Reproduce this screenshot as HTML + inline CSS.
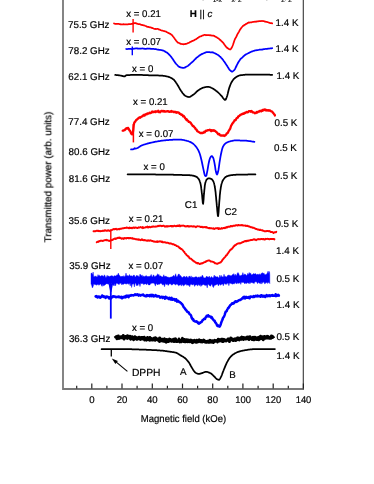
<!DOCTYPE html>
<html>
<head>
<meta charset="utf-8">
<title>ESR spectra</title>
<style>
html,body{margin:0;padding:0;background:#ffffff;}
body{width:374px;height:484px;overflow:hidden;font-family:"Liberation Sans",sans-serif;}
svg{display:block;}
svg text{font-family:"Liberation Sans",sans-serif;fill:#000;stroke:#000;stroke-width:0.2px;text-rendering:geometricPrecision;}
</style>
</head>
<body>
<svg width="374" height="484" viewBox="0 0 374 484">
<rect x="0" y="0" width="374" height="484" fill="#ffffff"/>
<g id="axes">
<path d="M63 0V389H304" fill="none" stroke="#787878" stroke-width="1.8" stroke-linejoin="miter"/>
<line x1="303.35" y1="0" x2="303.35" y2="389.6" stroke="#555" stroke-width="1.3"/>
<line x1="76.7" y1="388.4" x2="76.7" y2="385.79999999999995" stroke="#222" stroke-width="1.2"/>
<line x1="91.8" y1="388.4" x2="91.8" y2="383.59999999999997" stroke="#222" stroke-width="1.2"/>
<line x1="106.9" y1="388.4" x2="106.9" y2="385.79999999999995" stroke="#222" stroke-width="1.2"/>
<line x1="122.0" y1="388.4" x2="122.0" y2="383.59999999999997" stroke="#222" stroke-width="1.2"/>
<line x1="137.1" y1="388.4" x2="137.1" y2="385.79999999999995" stroke="#222" stroke-width="1.2"/>
<line x1="152.3" y1="388.4" x2="152.3" y2="383.59999999999997" stroke="#222" stroke-width="1.2"/>
<line x1="167.4" y1="388.4" x2="167.4" y2="385.79999999999995" stroke="#222" stroke-width="1.2"/>
<line x1="182.5" y1="388.4" x2="182.5" y2="383.59999999999997" stroke="#222" stroke-width="1.2"/>
<line x1="197.6" y1="388.4" x2="197.6" y2="385.79999999999995" stroke="#222" stroke-width="1.2"/>
<line x1="212.7" y1="388.4" x2="212.7" y2="383.59999999999997" stroke="#222" stroke-width="1.2"/>
<line x1="227.8" y1="388.4" x2="227.8" y2="385.79999999999995" stroke="#222" stroke-width="1.2"/>
<line x1="242.9" y1="388.4" x2="242.9" y2="383.59999999999997" stroke="#222" stroke-width="1.2"/>
<line x1="258.1" y1="388.4" x2="258.1" y2="385.79999999999995" stroke="#222" stroke-width="1.2"/>
<line x1="273.2" y1="388.4" x2="273.2" y2="383.59999999999997" stroke="#222" stroke-width="1.2"/>
<line x1="288.3" y1="388.4" x2="288.3" y2="385.79999999999995" stroke="#222" stroke-width="1.2"/>
<line x1="303.4" y1="388.4" x2="303.4" y2="383.59999999999997" stroke="#222" stroke-width="1.2"/>
</g>
<g id="curves">
<polyline points="114.0,23.5 114.5,23.6 115.0,23.8 115.5,23.9 116.0,24.0 116.5,23.9 117.0,23.9 117.5,23.9 118.0,23.9 118.5,23.8 119.0,24.0 119.5,24.1 120.0,24.3 120.5,24.2 121.0,24.4 121.5,24.4 122.0,24.5 122.5,24.4 123.0,24.3 123.5,24.2 124.0,24.3 124.5,24.4 125.0,24.3 125.5,24.3 126.0,24.4 126.5,24.4 127.0,24.4 127.5,24.4 128.0,24.3 128.5,24.2 129.0,24.2 129.5,24.2 130.0,24.0 130.5,24.0 131.0,24.0 131.5,23.8 132.0,24.0 132.5,23.9 133.0,23.4 133.5,23.4 134.0,23.2 134.5,23.1 135.0,23.3 135.5,23.1 136.0,23.2 136.5,23.6 137.0,23.7 137.5,23.8 138.0,24.0 138.5,24.1 139.0,24.2 139.5,24.2 140.0,24.2 140.5,24.5 141.0,24.8 141.5,24.8 142.0,24.9 142.5,25.2 143.0,25.2 143.5,25.3 144.0,25.4 144.5,25.5 145.0,25.8 145.5,26.0 146.0,26.1 146.5,26.4 147.0,26.7 147.5,26.8 148.0,26.8 148.5,26.9 149.0,27.1 149.5,27.3 150.0,27.3 150.5,27.3 151.0,27.5 151.5,27.8 152.0,27.9 152.5,28.1 153.0,28.3 153.5,28.5 154.0,28.7 154.5,28.9 155.0,29.0 155.5,28.9 156.0,29.1 156.5,29.0 157.0,28.9 157.5,28.9 158.0,29.0 158.5,29.1 159.0,29.5 159.5,29.5 160.0,29.8 160.5,30.1 161.0,30.3 161.5,30.5 162.0,30.6 162.5,30.6 163.0,30.8 163.5,31.0 164.0,31.1 164.5,31.2 165.0,31.3 165.5,31.5 166.0,31.6 166.5,31.9 167.0,32.3 167.5,32.5 168.0,32.8 168.5,33.1 169.0,33.2 169.5,33.5 170.0,33.8 170.5,33.9 171.0,34.4 171.5,34.7 172.0,35.2 172.5,35.8 173.0,36.5 173.5,37.0 174.0,37.7 174.5,38.3 175.0,39.2 175.5,39.8 176.0,40.5 176.5,41.1 177.0,41.6 177.5,42.4 178.0,42.6 178.5,42.8 179.0,43.0 179.5,43.3 180.0,43.4 180.5,43.8 181.0,43.8 181.5,44.0 182.0,44.1 182.5,44.1 183.0,44.2 183.5,44.3 184.0,44.2 184.5,44.2 185.0,44.1 185.5,43.9 186.0,43.8 186.5,43.8 187.0,43.6 187.5,43.3 188.0,43.1 188.5,43.0 189.0,42.7 189.5,42.5 190.0,42.1 190.5,41.8 191.0,41.7 191.5,41.4 192.0,41.1 192.5,40.9 193.0,40.8 193.5,40.5 194.0,40.4 194.5,40.0 195.0,39.6 195.5,39.5 196.0,39.2 196.5,38.8 197.0,38.5 197.5,38.1 198.0,37.8 198.5,37.6 199.0,37.1 199.5,36.8 200.0,36.5 200.5,36.4 201.0,36.3 201.5,36.1 202.0,35.8 202.5,35.5 203.0,35.4 203.5,35.3 204.0,35.0 204.5,34.9 205.0,34.9 205.5,35.0 206.0,35.3 206.5,35.1 207.0,35.2 207.5,35.1 208.0,35.1 208.5,35.1 209.0,35.1 209.5,35.2 210.0,35.4 210.5,35.2 211.0,35.3 211.5,35.5 212.0,35.5 212.5,35.6 213.0,35.7 213.5,35.7 214.0,35.8 214.5,36.2 215.0,36.4 215.5,36.7 216.0,37.0 216.5,37.1 217.0,37.5 217.5,38.0 218.0,38.2 218.5,38.4 219.0,38.9 219.5,39.3 220.0,39.8 220.5,40.2 221.0,40.7 221.5,41.1 222.0,41.7 222.5,42.2 223.0,42.7 223.5,43.2 224.0,43.9 224.5,44.7 225.0,45.3 225.5,46.1 226.0,46.7 226.5,47.3 227.0,47.7 227.5,48.1 228.0,48.3 228.5,48.8 229.0,49.1 229.5,49.3 230.0,49.5 230.5,49.4 231.0,48.8 231.5,48.1 232.0,47.2 232.5,46.0 233.0,44.7 233.5,43.2 234.0,41.7 234.5,40.3 235.0,39.0 235.5,38.1 236.0,37.3 236.5,36.3 237.0,35.1 237.5,34.1 238.0,33.3 238.5,32.5 239.0,31.6 239.5,30.6 240.0,29.8 240.5,29.0 241.0,28.4 241.5,27.6 242.0,27.0 242.5,26.5 243.0,25.9 243.5,25.6 244.0,25.4 244.5,24.8 245.0,24.7 245.5,24.4 246.0,23.9 246.5,23.9 247.0,23.5 247.5,23.1 248.0,22.9 248.5,22.6 249.0,22.4 249.5,22.6 250.0,22.5 250.5,22.4 251.0,22.4 251.5,22.3 252.0,22.2 252.5,22.0 253.0,21.9 253.5,21.9 254.0,21.9 254.5,21.7 255.0,21.7 255.5,21.7 256.0,21.8 256.5,21.6 257.0,21.4 257.5,21.4 258.0,21.3 258.5,21.3 259.0,21.1 259.5,21.1 260.0,21.2 260.5,21.2 261.0,21.0 261.5,21.0 262.0,20.9 262.5,21.0 263.0,21.2 263.5,21.2 264.0,21.2 264.5,21.4 265.0,21.6 265.5,21.7 266.0,21.8 266.5,21.8 267.0,22.0 267.5,22.1 268.0,22.3 268.5,22.5 269.0,22.7 269.5,22.8 270.0,23.0 270.5,23.0 271.0,23.1 271.5,23.2 272.0,23.3 272.2,23.4" fill="none" stroke="#ff0000" stroke-width="1.75" stroke-linejoin="round" stroke-linecap="round"/>
<line x1="133.1" y1="19.1" x2="133.1" y2="32.5" stroke="#ff0000" stroke-width="1.4"/>
<polyline points="126.2,49.0 126.7,49.1 127.2,49.1 127.7,49.0 128.2,48.9 128.7,48.9 129.2,48.9 129.7,48.9 130.2,48.9 130.7,48.9 131.2,49.0 131.7,49.0 132.2,48.9 132.7,48.8 133.2,48.8 133.7,48.7 134.2,48.5 134.7,48.5 135.2,48.5 135.7,48.4 136.2,48.4 136.7,48.4 137.2,48.4 137.7,48.6 138.2,48.6 138.7,48.6 139.2,48.6 139.7,48.6 140.2,48.6 140.7,48.7 141.2,48.6 141.7,48.5 142.2,48.4 142.7,48.5 143.2,48.6 143.7,48.7 144.2,48.7 144.7,48.8 145.2,48.8 145.7,48.9 146.2,48.8 146.7,48.7 147.2,48.5 147.7,48.6 148.2,48.6 148.7,48.6 149.2,48.7 149.7,48.6 150.2,48.7 150.7,48.8 151.2,48.8 151.7,48.8 152.2,48.9 152.7,48.9 153.2,48.9 153.7,48.9 154.2,49.0 154.7,49.1 155.2,49.0 155.7,49.1 156.2,49.2 156.7,49.4 157.2,49.5 157.7,49.5 158.2,49.5 158.7,49.8 159.2,49.8 159.7,49.9 160.2,49.9 160.7,50.0 161.2,50.0 161.7,50.2 162.2,50.3 162.7,50.4 163.2,50.6 163.7,50.8 164.2,51.0 164.7,51.4 165.2,51.6 165.7,51.9 166.2,52.2 166.7,52.4 167.2,52.8 167.7,53.2 168.2,53.6 168.7,54.1 169.2,54.7 169.7,55.1 170.2,55.7 170.7,56.3 171.2,56.9 171.7,57.6 172.2,58.2 172.7,58.9 173.2,59.7 173.7,60.5 174.2,61.3 174.7,62.0 175.2,62.7 175.7,63.4 176.2,64.0 176.7,64.5 177.2,65.0 177.7,65.5 178.2,66.1 178.7,66.5 179.2,66.9 179.7,67.1 180.2,67.2 180.7,67.5 181.2,67.6 181.7,67.6 182.2,67.7 182.7,67.9 183.2,67.8 183.7,67.9 184.2,67.7 184.7,67.6 185.2,67.4 185.7,67.1 186.2,66.7 186.7,66.5 187.2,66.2 187.7,66.0 188.2,65.6 188.7,65.1 189.2,64.7 189.7,64.4 190.2,63.8 190.7,63.4 191.2,62.9 191.7,62.5 192.2,62.1 192.7,61.8 193.2,61.2 193.7,60.6 194.2,60.1 194.7,59.5 195.2,59.1 195.7,58.7 196.2,58.0 196.7,57.6 197.2,57.2 197.7,56.9 198.2,56.5 198.7,56.1 199.2,55.6 199.7,55.4 200.2,55.1 200.7,54.8 201.2,54.3 201.7,54.1 202.2,53.9 202.7,53.8 203.2,53.5 203.7,53.3 204.2,53.0 204.7,52.8 205.2,52.7 205.7,52.4 206.2,52.2 206.7,52.0 207.2,52.0 207.7,52.0 208.2,52.1 208.7,52.2 209.2,52.2 209.7,52.2 210.2,52.3 210.7,52.3 211.2,52.4 211.7,52.3 212.2,52.2 212.7,52.4 213.2,52.6 213.7,52.7 214.2,53.0 214.7,53.2 215.2,53.4 215.7,53.7 216.2,53.9 216.7,54.2 217.2,54.5 217.7,54.7 218.2,55.2 218.7,55.5 219.2,55.9 219.7,56.4 220.2,56.7 220.7,57.2 221.2,57.8 221.7,58.3 222.2,58.9 222.7,59.5 223.2,60.1 223.7,60.9 224.2,61.6 224.7,62.3 225.2,63.0 225.7,63.8 226.2,64.5 226.7,65.3 227.2,66.0 227.7,66.9 228.2,67.6 228.7,68.5 229.2,69.2 229.7,69.9 230.2,70.4 230.7,70.8 231.2,71.2 231.7,71.6 232.2,71.7 232.7,71.5 233.2,71.0 233.7,70.5 234.2,70.1 234.7,69.5 235.2,68.6 235.7,67.5 236.2,66.5 236.7,65.5 237.2,64.4 237.7,63.5 238.2,62.5 238.7,61.7 239.2,60.9 239.7,60.2 240.2,59.4 240.7,58.9 241.2,58.4 241.7,58.0 242.2,57.6 242.7,57.1 243.2,56.5 243.7,56.1 244.2,55.7 244.7,55.3 245.2,54.8 245.7,54.6 246.2,54.2 246.7,54.0 247.2,53.8 247.7,53.5 248.2,53.3 248.7,53.0 249.2,52.7 249.7,52.6 250.2,52.3 250.7,52.0 251.2,51.8 251.7,51.6 252.2,51.4 252.7,51.2 253.2,51.0 253.7,50.9 254.2,50.8 254.7,50.5 255.2,50.4 255.7,50.3 256.2,50.3 256.7,50.2 257.2,50.1 257.7,50.1 258.2,50.0 258.7,49.9 259.2,49.7 259.7,49.7 260.2,49.7 260.7,49.6 261.2,49.5 261.7,49.6 262.2,49.6 262.7,49.4 263.2,49.3 263.7,49.2 264.2,49.2 264.7,49.1 265.2,49.0 265.7,48.9 266.2,49.0 266.7,48.9 267.2,48.9 267.7,48.7 268.2,48.6 268.7,48.6 269.2,48.6 269.7,48.5 270.2,48.4 270.7,48.3 271.2,48.3 271.7,48.3 272.2,48.2" fill="none" stroke="#0000ff" stroke-width="1.75" stroke-linejoin="round" stroke-linecap="round"/>
<line x1="132.3" y1="46.6" x2="132.3" y2="55.2" stroke="#0000ff" stroke-width="1.4"/>
<polyline points="115.2,74.9 115.7,74.9 116.2,75.0 116.7,75.0 117.2,75.1 117.7,75.2 118.2,75.2 118.7,75.3 119.2,75.4 119.7,75.4 120.2,75.5 120.7,75.6 121.2,75.7 121.7,75.8 122.2,75.9 122.7,76.1 123.2,76.2 123.7,76.3 124.2,76.4 124.7,76.4 125.2,76.1 125.7,75.5 126.2,75.3 126.7,75.2 127.2,75.2 127.7,75.1 128.2,75.1 128.7,75.0 129.2,75.0 129.7,75.0 130.2,75.0 130.7,74.9 131.2,74.9 131.7,74.9 132.2,74.9 132.7,74.8 133.2,74.8 133.7,74.8 134.2,74.8 134.7,74.8 135.2,74.8 135.7,74.8 136.2,74.8 136.7,74.8 137.2,74.8 137.7,74.8 138.2,74.8 138.7,74.8 139.2,74.8 139.7,74.9 140.2,74.9 140.7,74.9 141.2,74.9 141.7,74.9 142.2,74.9 142.7,75.0 143.2,75.0 143.7,75.0 144.2,75.0 144.7,75.1 145.2,75.1 145.7,75.1 146.2,75.1 146.7,75.2 147.2,75.2 147.7,75.2 148.2,75.2 148.7,75.3 149.2,75.3 149.7,75.3 150.2,75.3 150.7,75.3 151.2,75.3 151.7,75.3 152.2,75.3 152.7,75.4 153.2,75.4 153.7,75.4 154.2,75.4 154.7,75.4 155.2,75.4 155.7,75.4 156.2,75.4 156.7,75.4 157.2,75.4 157.7,75.4 158.2,75.4 158.7,75.5 159.2,75.5 159.7,75.5 160.2,75.5 160.7,75.5 161.2,75.6 161.7,75.6 162.2,75.7 162.7,75.7 163.2,75.8 163.7,75.9 164.2,75.9 164.7,76.0 165.2,76.1 165.7,76.2 166.2,76.3 166.7,76.4 167.2,76.5 167.7,76.6 168.2,76.7 168.7,76.9 169.2,77.1 169.7,77.3 170.2,77.5 170.7,77.7 171.2,78.0 171.7,78.3 172.2,78.6 172.7,78.9 173.2,79.3 173.7,79.6 174.2,80.1 174.7,80.7 175.2,81.4 175.7,82.1 176.2,82.9 176.7,83.6 177.2,84.4 177.7,85.2 178.2,86.0 178.7,86.9 179.2,87.8 179.7,88.7 180.2,89.5 180.7,90.4 181.2,91.1 181.7,91.8 182.2,92.5 182.7,93.2 183.2,93.8 183.7,94.4 184.2,95.0 184.7,95.4 185.2,95.8 185.7,96.0 186.2,96.3 186.7,96.5 187.2,96.7 187.7,96.8 188.2,96.9 188.7,97.0 189.2,97.0 189.7,96.9 190.2,96.7 190.7,96.4 191.2,96.1 191.7,95.8 192.2,95.4 192.7,95.1 193.2,94.7 193.7,94.4 194.2,94.0 194.7,93.6 195.2,93.1 195.7,92.7 196.2,92.2 196.7,91.7 197.2,91.2 197.7,90.8 198.2,90.4 198.7,90.1 199.2,89.8 199.7,89.4 200.2,89.1 200.7,88.8 201.2,88.6 201.7,88.3 202.2,88.1 202.7,87.8 203.2,87.7 203.7,87.5 204.2,87.4 204.7,87.3 205.2,87.2 205.7,87.1 206.2,87.0 206.7,86.9 207.2,86.8 207.7,86.8 208.2,86.8 208.7,86.9 209.2,87.0 209.7,87.1 210.2,87.3 210.7,87.5 211.2,87.8 211.7,88.0 212.2,88.2 212.7,88.5 213.2,88.8 213.7,89.1 214.2,89.4 214.7,89.7 215.2,90.1 215.7,90.5 216.2,90.9 216.7,91.2 217.2,91.7 217.7,92.1 218.2,92.5 218.7,93.0 219.2,93.5 219.7,94.0 220.2,94.5 220.7,95.1 221.2,95.6 221.7,96.1 222.2,96.8 222.7,97.5 223.2,98.2 223.7,98.8 224.2,99.4 224.7,99.8 225.2,99.9 225.7,99.5 226.2,98.5 226.7,97.2 227.2,95.8 227.7,93.9 228.2,91.8 228.7,89.7 229.2,88.1 229.7,86.6 230.2,85.3 230.7,84.0 231.2,82.9 231.7,82.0 232.2,81.2 232.7,80.4 233.2,79.8 233.7,79.1 234.2,78.6 234.7,78.2 235.2,77.8 235.7,77.4 236.2,77.1 236.7,76.7 237.2,76.4 237.7,76.2 238.2,75.9 238.7,75.7 239.2,75.5 239.7,75.4 240.2,75.3 240.7,75.2 241.2,75.2 241.7,75.1 242.2,75.0 242.7,75.0 243.2,74.9 243.7,74.9 244.2,74.8 244.7,74.8 245.2,74.7 245.7,74.7 246.2,74.7 246.7,74.6 247.2,74.6 247.7,74.6 248.2,74.6 248.7,74.5 249.2,74.5 249.7,74.5 250.2,74.5 250.7,74.5 251.2,74.5 251.7,74.5 252.2,74.5 252.7,74.5 253.2,74.5 253.7,74.5 254.2,74.5 254.7,74.5 255.2,74.5 255.7,74.5 256.2,74.5 256.7,74.5 257.2,74.5 257.7,74.6 258.2,74.6 258.7,74.6 259.2,74.6 259.7,74.6 260.2,74.6 260.7,74.6 261.2,74.6 261.7,74.6 262.2,74.6 262.7,74.6 263.2,74.6 263.7,74.6 264.2,74.6 264.7,74.6 265.2,74.7 265.7,74.7 266.2,74.7 266.7,74.7 267.2,74.7 267.7,74.7 268.2,74.7 268.7,74.7 269.2,74.7 269.7,74.7 270.2,74.8 270.7,74.8 271.2,74.8 271.7,74.8 272.2,74.8" fill="none" stroke="#000000" stroke-width="1.75" stroke-linejoin="round" stroke-linecap="round"/>
<polyline points="122.7,130.7 123.2,130.6 123.7,130.5 124.2,130.0 124.7,130.0 125.2,129.6 125.7,128.7 126.2,128.6 126.7,128.2 127.2,128.6 127.7,127.9 128.2,128.0 128.7,128.8 129.2,129.9 129.7,130.8 130.2,131.1 130.7,132.3 131.2,133.7 131.7,134.1 132.2,134.4 132.7,133.6 133.2,130.3 133.7,125.3 134.2,123.1 134.7,122.1 135.2,121.8 135.7,120.7 136.2,120.1 136.7,119.8 137.2,119.4 137.7,118.7 138.2,118.6 138.7,117.8 139.2,117.7 139.7,117.3 140.2,117.8 140.7,117.3 141.2,116.7 141.7,116.5 142.2,116.4 142.7,116.2 143.2,115.3 143.7,115.1 144.2,114.8 144.7,115.5 145.2,114.7 145.7,114.2 146.2,114.2 146.7,114.4 147.2,113.5 147.7,113.5 148.2,113.7 148.7,113.4 149.2,113.2 149.7,112.6 150.2,113.2 150.7,113.1 151.2,112.4 151.7,112.5 152.2,111.5 152.7,112.2 153.2,112.0 153.7,112.1 154.2,111.9 154.7,111.8 155.2,111.3 155.7,112.0 156.2,111.5 156.7,111.6 157.2,111.5 157.7,111.6 158.2,110.8 158.7,112.0 159.2,111.6 159.7,111.9 160.2,112.2 160.7,111.6 161.2,110.9 161.7,111.1 162.2,110.8 162.7,111.2 163.2,111.6 163.7,111.0 164.2,111.6 164.7,111.1 165.2,111.6 165.7,111.7 166.2,111.5 166.7,111.3 167.2,111.2 167.7,111.3 168.2,111.1 168.7,111.5 169.2,111.9 169.7,111.9 170.2,111.6 170.7,111.5 171.2,110.9 171.7,111.7 172.2,111.5 172.7,111.7 173.2,111.7 173.7,112.1 174.2,112.0 174.7,112.1 175.2,111.8 175.7,111.9 176.2,112.7 176.7,112.3 177.2,112.2 177.7,112.4 178.2,112.7 178.7,112.5 179.2,113.0 179.7,113.8 180.2,113.7 180.7,114.2 181.2,114.8 181.7,114.5 182.2,115.1 182.7,115.4 183.2,116.4 183.7,115.9 184.2,116.6 184.7,117.4 185.2,118.3 185.7,118.8 186.2,119.6 186.7,119.3 187.2,120.4 187.7,120.5 188.2,121.0 188.7,121.8 189.2,121.8 189.7,121.8 190.2,122.5 190.7,122.8 191.2,123.6 191.7,124.4 192.2,125.0 192.7,126.0 193.2,126.0 193.7,126.3 194.2,127.0 194.7,127.6 195.2,128.1 195.7,129.2 196.2,129.5 196.7,129.8 197.2,131.1 197.7,131.3 198.2,131.8 198.7,132.0 199.2,132.3 199.7,132.5 200.2,133.1 200.7,133.0 201.2,133.1 201.7,133.2 202.2,132.6 202.7,133.0 203.2,132.8 203.7,132.7 204.2,131.8 204.7,132.4 205.2,131.6 205.7,130.9 206.2,130.6 206.7,130.8 207.2,130.5 207.7,130.2 208.2,130.3 208.7,130.1 209.2,130.2 209.7,129.7 210.2,130.1 210.7,130.6 211.2,131.2 211.7,130.1 212.2,130.4 212.7,130.4 213.2,130.8 213.7,130.2 214.2,130.4 214.7,130.8 215.2,130.9 215.7,131.5 216.2,132.1 216.7,132.1 217.2,132.8 217.7,133.6 218.2,134.2 218.7,134.4 219.2,134.0 219.7,134.7 220.2,135.3 220.7,135.6 221.2,135.6 221.7,135.3 222.2,135.7 222.7,135.4 223.2,135.4 223.7,135.5 224.2,136.0 224.7,135.4 225.2,135.5 225.7,134.9 226.2,134.6 226.7,133.5 227.2,133.1 227.7,133.1 228.2,132.0 228.7,130.9 229.2,130.2 229.7,129.5 230.2,128.6 230.7,127.0 231.2,125.5 231.7,124.8 232.2,123.9 232.7,123.1 233.2,122.7 233.7,121.7 234.2,121.2 234.7,120.1 235.2,120.1 235.7,120.0 236.2,118.9 236.7,118.2 237.2,117.8 237.7,117.7 238.2,116.5 238.7,116.2 239.2,115.9 239.7,115.6 240.2,114.9 240.7,114.8 241.2,114.5 241.7,114.4 242.2,114.1 242.7,113.6 243.2,113.7 243.7,113.8 244.2,113.0 244.7,113.0 245.2,113.1 245.7,112.4 246.2,112.4 246.7,111.9 247.2,112.2 247.7,112.3 248.2,112.1 248.7,111.2 249.2,111.2 249.7,111.1 250.2,111.2 250.7,111.7 251.2,110.9 251.7,111.6 252.2,111.5 252.7,112.4 253.2,112.3 253.7,112.3 254.2,112.8 254.7,113.3 255.2,113.1 255.7,113.1 256.2,112.6 256.7,111.9 257.2,112.5 257.7,112.2 258.2,111.7 258.7,111.3 259.2,111.6 259.7,111.1 260.2,110.8 260.7,111.0 261.2,111.3 261.7,110.4 262.2,110.9 262.7,110.1 263.2,109.7 263.7,110.3 264.2,109.7 264.7,109.4 265.2,109.6 265.7,110.1 266.2,110.5 266.7,110.0 267.2,110.3 267.7,110.5 268.2,110.1 268.7,110.5 269.2,110.6 269.7,110.4 270.2,110.6 270.7,111.1 271.2,111.3 271.7,111.3 272.2,111.7 272.7,112.5 273.2,112.9 273.7,113.6 274.2,114.3 274.7,114.7 274.9,115.5" fill="none" stroke="#ff0000" stroke-width="2.3" stroke-linejoin="round" stroke-linecap="round"/>
<line x1="133.4" y1="124" x2="133.4" y2="142.4" stroke="#ff0000" stroke-width="1.5"/>
<polyline points="131.0,149.4 131.5,149.4 132.0,149.4 132.5,149.3 133.0,149.3 133.5,149.2 134.0,149.0 134.5,148.2 135.0,148.4 135.5,148.6 136.0,148.5 136.5,148.4 137.0,148.2 137.5,148.0 138.0,147.7 138.5,147.4 139.0,147.1 139.5,146.8 140.0,146.4 140.5,146.1 141.0,145.8 141.5,145.6 142.0,145.3 142.5,145.2 143.0,145.0 143.5,144.8 144.0,144.6 144.5,144.5 145.0,144.3 145.5,144.2 146.0,144.0 146.5,143.9 147.0,143.7 147.5,143.6 148.0,143.4 148.5,143.3 149.0,143.2 149.5,143.1 150.0,142.9 150.5,142.8 151.0,142.7 151.5,142.6 152.0,142.5 152.5,142.4 153.0,142.3 153.5,142.2 154.0,142.1 154.5,141.9 155.0,141.8 155.5,141.7 156.0,141.7 156.5,141.6 157.0,141.5 157.5,141.4 158.0,141.3 158.5,141.2 159.0,141.1 159.5,141.0 160.0,141.0 160.5,140.9 161.0,140.8 161.5,140.7 162.0,140.7 162.5,140.6 163.0,140.6 163.5,140.5 164.0,140.4 164.5,140.4 165.0,140.3 165.5,140.3 166.0,140.2 166.5,140.2 167.0,140.2 167.5,140.1 168.0,140.1 168.5,140.0 169.0,140.0 169.5,139.9 170.0,139.9 170.5,139.9 171.0,139.8 171.5,139.8 172.0,139.8 172.5,139.8 173.0,139.7 173.5,139.7 174.0,139.7 174.5,139.7 175.0,139.7 175.5,139.7 176.0,139.7 176.5,139.6 177.0,139.6 177.5,139.6 178.0,139.6 178.5,139.6 179.0,139.6 179.5,139.6 180.0,139.6 180.5,139.6 181.0,139.6 181.5,139.7 182.0,139.8 182.5,139.8 183.0,139.9 183.5,140.0 184.0,140.1 184.5,140.2 185.0,140.4 185.5,140.5 186.0,140.6 186.5,140.7 187.0,140.9 187.5,141.0 188.0,141.1 188.5,141.3 189.0,141.5 189.5,141.7 190.0,141.9 190.5,142.1 191.0,142.4 191.5,142.6 192.0,142.9 192.5,143.2 193.0,143.6 193.5,144.0 194.0,144.5 194.5,145.0 195.0,145.5 195.5,146.1 196.0,146.7 196.5,147.3 197.0,148.1 197.5,148.9 198.0,149.7 198.5,150.7 199.0,151.8 199.5,153.0 200.0,154.5 200.5,156.3 201.0,158.3 201.5,160.3 202.0,162.5 202.5,165.0 203.0,167.4 203.5,169.6 204.0,172.0 204.5,174.3 205.0,175.8 205.5,176.0 206.0,176.0 206.5,175.2 207.0,172.7 207.5,170.1 208.0,167.2 208.5,164.1 209.0,161.7 209.5,159.8 210.0,158.2 210.5,157.3 211.0,156.6 211.5,156.1 212.0,156.2 212.5,156.7 213.0,157.4 213.5,158.6 214.0,160.6 214.5,163.2 215.0,166.0 215.5,169.6 216.0,172.1 216.5,173.7 217.0,174.5 217.5,173.7 218.0,172.1 218.5,169.7 219.0,166.3 219.5,162.7 220.0,159.6 220.5,156.6 221.0,154.0 221.5,151.7 222.0,149.6 222.5,147.9 223.0,146.7 223.5,145.8 224.0,145.0 224.5,144.4 225.0,143.9 225.5,143.4 226.0,143.1 226.5,142.8 227.0,142.5 227.5,142.2 228.0,142.0 228.5,141.8 229.0,141.7 229.5,141.5 230.0,141.4 230.5,141.2 231.0,141.1 231.5,141.0 232.0,140.9 232.5,140.8 233.0,140.7 233.5,140.6 234.0,140.5 234.5,140.4 235.0,140.4 235.5,140.4 236.0,140.4 236.5,140.4 237.0,140.4 237.5,140.4 238.0,140.4 238.5,140.4 239.0,140.4 239.5,140.4 240.0,140.5 240.5,140.5 241.0,140.5 241.5,140.5 242.0,140.5 242.5,140.5 243.0,140.6 243.5,140.6 244.0,140.6 244.5,140.6 245.0,140.6 245.5,140.7 246.0,140.7 246.5,140.7 247.0,140.8 247.5,140.8 248.0,140.9 248.5,141.0 249.0,141.0 249.5,141.1 250.0,141.2 250.5,141.2 251.0,141.3 251.5,141.4 252.0,141.5 252.5,141.6 253.0,141.6 253.5,141.7 254.0,141.8 254.4,141.9" fill="none" stroke="#0000ff" stroke-width="1.75" stroke-linejoin="round" stroke-linecap="round"/>
<polyline points="127.6,174.3 127.8,174.3 128.1,174.3 128.3,174.3 128.6,174.3 128.8,174.3 129.1,174.3 129.3,174.3 129.6,174.3 129.8,174.3 130.1,174.3 130.3,174.3 130.6,174.3 130.8,174.3 131.1,174.3 131.3,174.3 131.6,174.3 131.8,174.3 132.1,174.3 132.3,174.3 132.6,174.3 132.8,174.3 133.1,174.3 133.3,174.3 133.6,174.3 133.8,174.3 134.1,174.3 134.3,174.3 134.6,174.3 134.8,174.3 135.1,174.3 135.3,174.3 135.6,174.3 135.8,174.3 136.1,174.3 136.3,174.3 136.6,174.3 136.8,174.3 137.1,174.3 137.3,174.3 137.6,174.3 137.8,174.3 138.1,174.3 138.3,174.3 138.6,174.3 138.8,174.3 139.1,174.3 139.3,174.3 139.6,174.3 139.8,174.3 140.1,174.3 140.3,174.3 140.6,174.3 140.8,174.3 141.1,174.3 141.3,174.3 141.6,174.3 141.8,174.3 142.1,174.3 142.3,174.4 142.6,174.4 142.8,174.4 143.1,174.4 143.3,174.4 143.6,174.4 143.8,174.4 144.1,174.4 144.3,174.4 144.6,174.4 144.8,174.4 145.1,174.4 145.3,174.4 145.6,174.4 145.8,174.4 146.1,174.4 146.3,174.4 146.6,174.4 146.8,174.4 147.1,174.4 147.3,174.4 147.6,174.4 147.8,174.4 148.1,174.4 148.3,174.4 148.6,174.4 148.8,174.4 149.1,174.4 149.3,174.4 149.6,174.4 149.8,174.4 150.1,174.4 150.3,174.4 150.6,174.4 150.8,174.4 151.1,174.4 151.3,174.4 151.6,174.4 151.8,174.4 152.1,174.4 152.3,174.4 152.6,174.4 152.8,174.4 153.1,174.4 153.3,174.4 153.6,174.4 153.8,174.4 154.1,174.4 154.3,174.4 154.6,174.4 154.8,174.4 155.1,174.4 155.3,174.4 155.6,174.5 155.8,174.5 156.1,174.5 156.3,174.5 156.6,174.5 156.8,174.5 157.1,174.5 157.3,174.5 157.6,174.5 157.8,174.5 158.1,174.5 158.3,174.5 158.6,174.5 158.8,174.5 159.1,174.5 159.3,174.5 159.6,174.5 159.8,174.5 160.1,174.5 160.3,174.5 160.6,174.5 160.8,174.5 161.1,174.5 161.3,174.5 161.6,174.5 161.8,174.5 162.1,174.5 162.3,174.5 162.6,174.5 162.8,174.5 163.1,174.6 163.3,174.6 163.6,174.6 163.8,174.6 164.1,174.6 164.3,174.6 164.6,174.6 164.8,174.6 165.1,174.6 165.3,174.6 165.6,174.6 165.8,174.6 166.1,174.6 166.3,174.6 166.6,174.6 166.8,174.6 167.1,174.6 167.3,174.6 167.6,174.6 167.8,174.6 168.1,174.6 168.3,174.6 168.6,174.6 168.8,174.7 169.1,174.7 169.3,174.7 169.6,174.7 169.8,174.7 170.1,174.7 170.3,174.7 170.6,174.7 170.8,174.7 171.1,174.7 171.3,174.7 171.6,174.7 171.8,174.7 172.1,174.7 172.3,174.7 172.6,174.7 172.8,174.7 173.1,174.7 173.3,174.7 173.6,174.8 173.8,174.8 174.1,174.8 174.3,174.8 174.6,174.8 174.8,174.8 175.1,174.8 175.3,174.8 175.6,174.8 175.8,174.8 176.1,174.8 176.3,174.8 176.6,174.8 176.8,174.8 177.1,174.8 177.3,174.8 177.6,174.8 177.8,174.8 178.1,174.9 178.3,174.9 178.6,174.9 178.8,174.9 179.1,174.9 179.3,174.9 179.6,174.9 179.8,174.9 180.1,174.9 180.3,174.9 180.6,174.9 180.8,174.9 181.1,174.9 181.3,174.9 181.6,174.9 181.8,174.9 182.1,175.0 182.3,175.0 182.6,175.0 182.8,175.0 183.1,175.0 183.3,175.0 183.6,175.0 183.8,175.0 184.1,175.0 184.3,175.0 184.6,175.0 184.8,175.0 185.1,175.0 185.3,175.0 185.6,175.0 185.8,175.1 186.1,175.1 186.3,175.1 186.6,175.1 186.8,175.1 187.1,175.1 187.3,175.1 187.6,175.1 187.8,175.1 188.1,175.1 188.3,175.2 188.6,175.2 188.8,175.2 189.1,175.2 189.3,175.2 189.6,175.2 189.8,175.2 190.1,175.3 190.3,175.3 190.6,175.3 190.8,175.3 191.1,175.3 191.3,175.4 191.6,175.4 191.8,175.4 192.1,175.5 192.3,175.5 192.6,175.6 192.8,175.6 193.1,175.7 193.3,175.7 193.6,175.8 193.8,175.9 194.1,175.9 194.3,176.0 194.6,176.1 194.8,176.2 195.1,176.3 195.3,176.3 195.6,176.4 195.8,176.5 196.1,176.6 196.3,176.8 196.6,176.9 196.8,177.1 197.1,177.3 197.3,177.5 197.6,177.7 197.8,178.0 198.1,178.3 198.3,178.6 198.6,178.9 198.8,179.3 199.1,179.7 199.3,180.2 199.6,180.8 199.8,181.5 200.1,182.3 200.3,183.1 200.6,184.1 200.8,185.2 201.1,186.8 201.3,188.7 201.6,190.8 201.8,193.0 202.1,195.1 202.3,197.8 202.6,200.7 202.8,202.9 203.1,203.8 203.3,202.5 203.6,199.4 203.8,195.9 204.1,193.2 204.3,190.6 204.6,188.0 204.8,185.7 205.1,184.0 205.3,182.9 205.6,182.0 205.8,181.2 206.1,180.6 206.3,180.1 206.6,179.7 206.8,179.5 207.1,179.2 207.3,179.0 207.6,178.8 207.8,178.6 208.1,178.5 208.3,178.4 208.6,178.3 208.8,178.3 209.1,178.3 209.3,178.3 209.6,178.4 209.8,178.4 210.1,178.5 210.3,178.6 210.6,178.7 210.8,178.8 211.1,178.9 211.3,179.0 211.6,179.1 211.8,179.3 212.1,179.5 212.3,179.8 212.6,180.1 212.8,180.5 213.1,180.9 213.3,181.4 213.6,181.9 213.8,182.5 214.1,183.3 214.3,184.4 214.6,185.6 214.8,187.0 215.1,188.6 215.3,190.2 215.6,192.3 215.8,194.8 216.1,197.5 216.3,200.2 216.6,202.9 216.8,205.4 217.1,208.1 217.3,211.0 217.6,213.6 217.8,215.5 218.1,216.2 218.3,215.0 218.6,212.0 218.8,208.3 219.1,204.9 219.3,201.8 219.6,198.6 219.8,195.5 220.1,192.8 220.3,190.9 220.6,189.1 220.8,187.5 221.1,186.1 221.3,184.8 221.6,183.8 221.8,183.0 222.1,182.3 222.3,181.6 222.6,181.0 222.8,180.5 223.1,180.0 223.3,179.6 223.6,179.2 223.8,178.9 224.1,178.6 224.3,178.3 224.6,178.0 224.8,177.7 225.1,177.5 225.3,177.3 225.6,177.1 225.8,176.9 226.1,176.7 226.3,176.6 226.6,176.4 226.8,176.3 227.1,176.2 227.3,176.1 227.6,176.0 227.8,176.0 228.1,175.9 228.3,175.8 228.6,175.7 228.8,175.7 229.1,175.6 229.3,175.5 229.6,175.5 229.8,175.4 230.1,175.4 230.3,175.3 230.6,175.3 230.8,175.2 231.1,175.2 231.3,175.1 231.6,175.1 231.8,175.1 232.1,175.0 232.3,175.0 232.6,175.0 232.8,175.0 233.1,174.9 233.3,174.9 233.6,174.9 233.8,174.9 234.1,174.9 234.3,174.8 234.6,174.8 234.8,174.8 235.1,174.8 235.3,174.8 235.6,174.8 235.8,174.8 236.1,174.7 236.3,174.7 236.6,174.7 236.8,174.7 237.1,174.7 237.3,174.7 237.6,174.7 237.8,174.7 238.1,174.7 238.3,174.6 238.6,174.6 238.8,174.6 239.1,174.6 239.3,174.6 239.6,174.6 239.8,174.6 240.1,174.6 240.3,174.6 240.6,174.6 240.8,174.6 241.1,174.6 241.3,174.6 241.6,174.5 241.8,174.5 242.1,174.5 242.3,174.5 242.6,174.5 242.8,174.5 243.1,174.5 243.3,174.5 243.6,174.5 243.8,174.5 244.1,174.5 244.3,174.5 244.6,174.5 244.8,174.5 245.1,174.5 245.3,174.5 245.6,174.5 245.8,174.5 246.1,174.5 246.3,174.5 246.6,174.5 246.8,174.5 247.1,174.5 247.3,174.5 247.6,174.5 247.8,174.5 248.1,174.4 248.3,174.4 248.6,174.4 248.8,174.4 249.1,174.4 249.3,174.4 249.6,174.4 249.8,174.4 250.1,174.4 250.3,174.4 250.6,174.4 250.8,174.4 251.1,174.4 251.3,174.4 251.6,174.4 251.8,174.4 252.1,174.4 252.3,174.4 252.6,174.4 252.8,174.4 253.1,174.4 253.3,174.4 253.6,174.4 253.8,174.4 254.1,174.4 254.3,174.4 254.6,174.4 254.8,174.4 255.1,174.4 255.3,174.4 255.4,174.4" fill="none" stroke="#000000" stroke-width="1.75" stroke-linejoin="round" stroke-linecap="round"/>
<polyline points="93.5,231.2 94.0,231.3 94.5,231.1 95.0,231.3 95.5,231.2 96.0,231.0 96.5,230.7 97.0,230.7 97.5,230.6 98.0,231.1 98.5,230.7 99.0,231.2 99.5,231.0 100.0,231.3 100.5,231.2 101.0,231.0 101.5,231.1 102.0,231.1 102.5,230.8 103.0,230.7 103.5,230.6 104.0,230.9 104.5,230.2 105.0,230.5 105.5,230.3 106.0,230.6 106.5,230.8 107.0,230.6 107.5,230.7 108.0,230.2 108.5,230.6 109.0,230.5 109.5,230.9 110.0,231.0 110.5,230.4 111.0,230.3 111.5,230.1 112.0,230.0 112.5,229.6 113.0,229.3 113.5,228.9 114.0,229.3 114.5,229.4 115.0,229.0 115.5,229.0 116.0,228.7 116.5,229.3 117.0,229.6 117.5,229.2 118.0,229.4 118.5,229.2 119.0,228.9 119.5,229.3 120.0,228.7 120.5,228.8 121.0,228.7 121.5,228.7 122.0,228.5 122.5,228.4 123.0,228.2 123.5,228.1 124.0,228.2 124.5,228.0 125.0,227.9 125.5,227.9 126.0,228.0 126.5,227.5 127.0,227.6 127.5,227.6 128.0,228.0 128.5,227.9 129.0,228.3 129.5,227.5 130.0,227.9 130.5,228.1 131.0,227.8 131.5,227.9 132.0,228.3 132.5,227.8 133.0,227.6 133.5,227.4 134.0,227.9 134.5,228.0 135.0,227.4 135.5,227.4 136.0,227.8 136.5,227.9 137.0,227.8 137.5,228.0 138.0,227.8 138.5,227.3 139.0,227.6 139.5,227.6 140.0,227.3 140.5,226.9 141.0,227.3 141.5,227.6 142.0,227.7 142.5,227.0 143.0,228.2 143.5,227.4 144.0,227.7 144.5,227.6 145.0,227.6 145.5,227.4 146.0,227.0 146.5,227.3 147.0,227.0 147.5,226.6 148.0,227.6 148.5,227.0 149.0,227.2 149.5,226.7 150.0,227.2 150.5,227.2 151.0,227.1 151.5,226.8 152.0,226.7 152.5,226.9 153.0,226.5 153.5,226.5 154.0,226.7 154.5,226.6 155.0,226.6 155.5,226.4 156.0,226.8 156.5,226.5 157.0,226.2 157.5,226.4 158.0,225.8 158.5,225.9 159.0,226.2 159.5,225.7 160.0,225.8 160.5,225.6 161.0,225.9 161.5,226.2 162.0,225.9 162.5,226.1 163.0,225.7 163.5,225.9 164.0,225.8 164.5,226.4 165.0,226.7 165.5,226.3 166.0,226.1 166.5,226.5 167.0,226.1 167.5,226.5 168.0,226.3 168.5,226.2 169.0,226.3 169.5,226.1 170.0,226.1 170.5,226.0 171.0,226.2 171.5,226.0 172.0,226.4 172.5,226.0 173.0,226.2 173.5,226.4 174.0,225.8 174.5,225.8 175.0,225.9 175.5,226.2 176.0,226.4 176.5,226.2 177.0,225.7 177.5,226.0 178.0,225.5 178.5,226.0 179.0,225.6 179.5,225.2 180.0,226.3 180.5,226.2 181.0,225.7 181.5,225.8 182.0,225.7 182.5,225.8 183.0,225.5 183.5,225.6 184.0,225.9 184.5,226.0 185.0,226.4 185.5,226.3 186.0,226.6 186.5,226.2 187.0,226.4 187.5,226.0 188.0,226.0 188.5,226.5 189.0,226.2 189.5,226.6 190.0,226.4 190.5,226.3 191.0,226.3 191.5,226.3 192.0,226.3 192.5,226.5 193.0,226.6 193.5,226.3 194.0,226.3 194.5,226.5 195.0,226.5 195.5,226.8 196.0,227.2 196.5,226.6 197.0,226.4 197.5,226.3 198.0,226.4 198.5,226.4 199.0,226.4 199.5,226.5 200.0,226.6 200.5,227.0 201.0,227.0 201.5,226.9 202.0,226.7 202.5,227.3 203.0,227.1 203.5,227.4 204.0,227.2 204.5,227.1 205.0,226.9 205.5,227.1 206.0,227.6 206.5,226.9 207.0,227.5 207.5,227.8 208.0,227.9 208.5,228.1 209.0,228.2 209.5,228.0 210.0,228.4 210.5,228.2 211.0,228.2 211.5,228.3 212.0,228.4 212.5,228.6 213.0,228.6 213.5,228.2 214.0,229.0 214.5,228.8 215.0,228.6 215.5,228.3 216.0,228.3 216.5,228.4 217.0,228.3 217.5,228.0 218.0,228.6 218.5,229.1 219.0,228.1 219.5,228.8 220.0,228.7 220.5,228.6 221.0,228.7 221.5,228.1 222.0,228.4 222.5,228.6 223.0,228.2 223.5,228.0 224.0,228.1 224.5,227.8 225.0,228.2 225.5,227.5 226.0,227.8 226.5,227.1 227.0,227.6 227.5,227.2 228.0,226.6 228.5,226.8 229.0,226.6 229.5,226.6 230.0,226.8 230.5,226.0 231.0,226.0 231.5,226.4 232.0,226.2 232.5,226.4 233.0,225.9 233.5,225.6 234.0,225.7 234.5,225.9 235.0,225.8 235.5,225.4 236.0,225.2 236.5,225.3 237.0,225.1 237.5,225.6 238.0,225.2 238.5,225.0 239.0,225.1 239.5,225.4 240.0,225.4 240.5,225.2 241.0,225.2 241.5,225.4 242.0,225.0 242.5,225.1 243.0,225.6 243.5,225.4 244.0,225.6 244.5,225.6 245.0,225.5 245.5,225.5 246.0,226.1 246.5,225.8 247.0,225.6 247.5,226.0 248.0,226.2 248.5,226.1 249.0,226.5 249.5,226.7 250.0,226.6 250.5,227.1 251.0,227.3 251.5,227.3 252.0,227.3 252.5,227.7 253.0,227.8 253.5,227.9 254.0,227.8 254.5,228.4 255.0,228.4 255.5,228.7 256.0,229.1 256.5,229.0 257.0,229.1 257.5,229.6 258.0,229.4 258.5,229.7 259.0,229.9 259.5,230.1 260.0,229.5 260.5,230.1 261.0,230.1 261.5,230.2 262.0,230.2 262.5,230.3 263.0,230.8 263.5,230.7 264.0,231.1 264.5,231.2 265.0,231.1 265.5,231.2 266.0,231.4 266.5,231.2 267.0,230.9 267.5,231.0 268.0,230.9 268.5,231.1 269.0,231.4 269.5,231.0 270.0,231.3 270.5,232.0 271.0,231.9 271.5,232.1 272.0,232.0 272.5,232.2 273.0,232.6 273.5,233.0 274.0,232.5 274.5,232.3 275.0,232.3 275.5,232.3 276.0,232.2 276.3,231.7" fill="none" stroke="#ff0000" stroke-width="1.9" stroke-linejoin="round" stroke-linecap="round"/>
<polyline points="96.7,242.2 97.2,241.9 97.7,241.7 98.2,242.0 98.7,241.4 99.2,241.1 99.7,241.3 100.2,240.9 100.7,240.7 101.2,240.9 101.7,240.8 102.2,240.7 102.7,241.1 103.2,240.8 103.7,240.5 104.2,240.4 104.7,240.3 105.2,240.3 105.7,240.0 106.2,240.3 106.7,239.8 107.2,240.3 107.7,240.2 108.2,240.6 108.7,240.7 109.2,241.0 109.7,240.6 110.2,240.8 110.7,240.5 111.2,240.3 111.7,240.0 112.2,240.1 112.7,239.5 113.2,239.6 113.7,239.1 114.2,238.8 114.7,238.7 115.2,238.5 115.7,239.0 116.2,238.2 116.7,238.5 117.2,238.2 117.7,237.8 118.2,237.6 118.7,238.0 119.2,238.0 119.7,237.5 120.2,237.9 120.7,238.2 121.2,238.3 121.7,238.8 122.2,238.2 122.7,238.6 123.2,238.2 123.7,238.9 124.2,238.4 124.7,237.9 125.2,238.2 125.7,238.2 126.2,238.5 126.7,238.0 127.2,238.0 127.7,238.0 128.2,238.3 128.7,238.0 129.2,238.4 129.7,238.2 130.2,238.0 130.7,238.2 131.2,238.3 131.7,238.1 132.2,238.6 132.7,238.1 133.2,238.9 133.7,238.9 134.2,238.9 134.7,238.8 135.2,239.1 135.7,239.2 136.2,239.4 136.7,239.3 137.2,239.6 137.7,239.4 138.2,239.7 138.7,239.3 139.2,239.9 139.7,239.8 140.2,239.9 140.7,240.2 141.2,239.9 141.7,239.3 142.2,240.0 142.7,239.6 143.2,240.1 143.7,240.3 144.2,239.9 144.7,240.3 145.2,240.1 145.7,240.3 146.2,240.5 146.7,240.8 147.2,240.4 147.7,240.7 148.2,240.2 148.7,240.6 149.2,240.8 149.7,240.6 150.2,240.2 150.7,240.5 151.2,240.6 151.7,240.9 152.2,241.1 152.7,240.9 153.2,241.5 153.7,241.5 154.2,241.5 154.7,241.7 155.2,241.8 155.7,241.8 156.2,241.7 156.7,241.5 157.2,242.0 157.7,241.2 158.2,241.8 158.7,241.6 159.2,241.5 159.7,241.3 160.2,241.3 160.7,241.5 161.2,241.5 161.7,242.0 162.2,241.6 162.7,242.4 163.2,242.4 163.7,242.3 164.2,242.3 164.7,242.3 165.2,242.3 165.7,242.6 166.2,242.7 166.7,242.6 167.2,242.6 167.7,242.8 168.2,242.9 168.7,243.1 169.2,243.5 169.7,243.4 170.2,243.5 170.7,243.3 171.2,243.6 171.7,243.6 172.2,244.2 172.7,244.1 173.2,244.3 173.7,244.3 174.2,244.6 174.7,245.1 175.2,245.0 175.7,245.3 176.2,245.5 176.7,246.1 177.2,246.1 177.7,246.4 178.2,246.5 178.7,246.9 179.2,247.6 179.7,248.2 180.2,248.0 180.7,248.8 181.2,249.1 181.7,249.0 182.2,249.6 182.7,250.1 183.2,250.7 183.7,251.7 184.2,251.6 184.7,252.6 185.2,253.5 185.7,253.8 186.2,254.4 186.7,255.2 187.2,255.6 187.7,256.0 188.2,256.6 188.7,256.5 189.2,257.7 189.7,258.4 190.2,258.5 190.7,258.8 191.2,258.8 191.7,259.6 192.2,259.8 192.7,260.2 193.2,260.9 193.7,261.0 194.2,261.5 194.7,261.6 195.2,262.2 195.7,262.7 196.2,262.7 196.7,262.7 197.2,263.4 197.7,263.0 198.2,263.2 198.7,263.3 199.2,263.8 199.7,264.1 200.2,263.9 200.7,263.5 201.2,263.5 201.7,263.6 202.2,263.0 202.7,263.3 203.2,263.0 203.7,262.4 204.2,262.4 204.7,262.1 205.2,262.1 205.7,261.4 206.2,261.6 206.7,261.2 207.2,260.8 207.7,260.6 208.2,260.6 208.7,260.4 209.2,260.4 209.7,260.6 210.2,261.1 210.7,261.5 211.2,261.4 211.7,261.6 212.2,261.6 212.7,261.7 213.2,262.0 213.7,262.1 214.2,262.5 214.7,263.0 215.2,263.4 215.7,263.2 216.2,263.6 216.7,263.6 217.2,263.9 217.7,263.5 218.2,263.3 218.7,263.1 219.2,262.9 219.7,262.8 220.2,262.5 220.7,262.3 221.2,261.7 221.7,261.3 222.2,260.1 222.7,259.8 223.2,259.0 223.7,258.5 224.2,257.9 224.7,257.3 225.2,256.8 225.7,256.2 226.2,255.3 226.7,255.4 227.2,254.5 227.7,253.5 228.2,253.1 228.7,252.1 229.2,251.7 229.7,250.7 230.2,250.0 230.7,249.8 231.2,249.2 231.7,249.0 232.2,248.5 232.7,247.9 233.2,247.3 233.7,246.1 234.2,246.2 234.7,245.3 235.2,245.3 235.7,245.1 236.2,244.5 236.7,244.1 237.2,243.9 237.7,243.7 238.2,243.5 238.7,243.4 239.2,243.2 239.7,243.5 240.2,243.1 240.7,243.2 241.2,242.9 241.7,242.7 242.2,242.3 242.7,242.3 243.2,242.0 243.7,241.8 244.2,241.4 244.7,241.1 245.2,241.4 245.7,241.1 246.2,240.8 246.7,241.2 247.2,241.0 247.7,240.7 248.2,240.4 248.7,240.8 249.2,240.4 249.7,240.4 250.2,240.3 250.7,239.9 251.2,240.0 251.7,240.1 252.2,240.0 252.7,239.7 253.2,239.6 253.7,239.3 254.2,239.6 254.7,239.2 255.2,239.8 255.7,239.9 256.2,240.2 256.7,239.6 257.2,239.5 257.7,239.4 258.2,238.9 258.7,239.3 259.2,239.2 259.7,239.3 260.2,239.4 260.7,239.2 261.2,239.0 261.7,239.0 262.2,239.3 262.7,238.9 263.2,239.1 263.7,238.9 264.2,239.6 264.7,239.6 265.2,239.4 265.7,238.8 266.2,239.0 266.7,238.9 267.2,238.9 267.7,238.8 268.2,239.0 268.7,238.9 269.2,239.3 269.7,239.2 270.2,239.0 270.7,239.0 271.2,238.9 271.7,239.1 272.2,238.9 272.7,239.0 273.2,238.9 273.7,238.9 274.2,239.5 274.5,239.2" fill="none" stroke="#ff0000" stroke-width="1.9" stroke-linejoin="round" stroke-linecap="round"/>
<line x1="110.8" y1="229.6" x2="110.8" y2="249" stroke="#ff0000" stroke-width="1.4"/>
<polygon points="91.0,273.3 91.7,273.1 92.4,274.8 93.1,272.0 93.8,276.7 94.5,276.4 95.2,276.6 95.9,275.8 96.6,277.1 97.3,276.9 98.0,274.6 98.7,275.9 99.4,275.3 100.1,275.9 100.8,276.2 101.5,275.5 102.2,275.7 102.9,275.7 103.6,276.8 104.3,274.8 105.0,275.7 105.7,277.4 106.4,277.2 107.1,275.2 107.8,276.5 108.5,275.8 109.2,276.7 109.9,276.3 110.6,276.0 111.3,275.7 112.0,275.7 112.7,275.9 113.4,277.0 114.1,275.5 114.8,276.0 115.5,275.9 116.2,275.8 116.9,274.7 117.6,275.3 118.3,273.1 119.0,274.8 119.7,275.5 120.4,276.8 121.1,276.1 121.8,276.8 122.5,275.9 123.2,276.8 123.9,275.6 124.6,276.9 125.3,276.0 126.0,273.0 126.7,275.8 127.4,275.7 128.1,275.5 128.8,276.3 129.5,274.5 130.2,275.9 130.9,275.9 131.6,275.7 132.3,276.4 133.0,275.8 133.7,275.0 134.4,275.2 135.1,276.9 135.8,276.7 136.5,275.3 137.2,276.1 137.9,275.4 138.6,276.6 139.3,277.0 140.0,274.0 140.7,275.1 141.4,275.9 142.1,274.9 142.8,276.7 143.5,275.9 144.2,276.4 144.9,276.4 145.6,276.0 146.3,275.5 147.0,276.5 147.7,276.6 148.4,276.5 149.1,276.2 149.8,276.5 150.5,275.8 151.2,274.4 151.9,276.6 152.6,277.0 153.3,274.8 154.0,275.5 154.7,276.9 155.4,276.3 156.1,275.5 156.8,276.1 157.5,273.7 158.2,275.3 158.9,274.3 159.6,276.2 160.3,276.0 161.0,275.8 161.7,277.0 162.4,276.9 163.1,276.4 163.8,274.7 164.5,276.8 165.2,276.1 165.9,276.5 166.6,276.4 167.3,277.3 168.0,276.8 168.7,277.4 169.4,277.5 170.1,277.3 170.8,277.0 171.5,276.9 172.2,276.6 172.9,276.6 173.6,275.2 174.3,276.8 175.0,275.5 175.7,273.7 176.4,276.8 177.1,276.8 177.8,275.4 178.5,274.0 179.2,274.0 179.9,275.7 180.6,275.6 181.3,276.5 182.0,277.6 182.7,277.4 183.4,276.6 184.1,276.7 184.8,276.3 185.5,277.6 186.2,276.5 186.9,276.3 187.6,277.5 188.3,277.8 189.0,276.0 189.7,276.3 190.4,277.5 191.1,275.8 191.8,278.0 192.5,276.9 193.2,277.1 193.9,278.0 194.6,277.0 195.3,276.7 196.0,277.1 196.7,276.7 197.4,278.1 198.1,276.9 198.8,277.3 199.5,277.4 200.2,276.4 200.9,277.3 201.6,276.8 202.3,275.0 203.0,276.2 203.7,277.8 204.4,277.9 205.1,277.6 205.8,278.1 206.5,276.0 207.2,276.8 207.9,276.9 208.6,277.2 209.3,276.1 210.0,277.7 210.7,277.8 211.4,276.4 212.1,277.6 212.8,277.7 213.5,277.4 214.2,275.1 214.9,276.7 215.6,276.2 216.3,277.1 217.0,276.8 217.7,276.7 218.4,277.7 219.1,277.7 219.8,275.1 220.5,277.5 221.2,275.3 221.9,277.0 222.6,276.8 223.3,277.3 224.0,274.2 224.7,276.4 225.4,276.3 226.1,276.9 226.8,276.8 227.5,275.5 228.2,275.3 228.9,274.9 229.6,275.2 230.3,275.9 231.0,275.2 231.7,275.9 232.4,274.6 233.1,274.7 233.8,273.6 234.5,275.9 235.2,274.1 235.9,275.6 236.6,275.5 237.3,273.3 238.0,272.5 238.7,273.5 239.4,275.5 240.1,275.8 240.8,275.4 241.5,275.3 242.2,274.8 242.9,272.6 243.6,275.2 244.3,274.4 245.0,273.8 245.7,274.8 246.4,275.4 247.1,275.1 247.8,273.3 248.5,274.8 249.2,272.4 249.9,273.8 250.6,272.9 251.3,275.0 252.0,274.4 252.7,274.6 253.4,273.6 254.1,273.8 254.8,274.1 255.5,273.5 256.2,274.3 256.9,275.0 257.6,274.1 258.3,274.2 259.0,275.1 259.7,273.7 260.4,275.0 261.1,273.7 261.8,272.9 262.5,272.7 263.2,273.8 263.9,272.9 264.6,274.5 265.3,274.8 266.0,274.2 266.7,274.3 267.4,272.8 268.1,271.1 268.8,273.6 269.5,271.5 269.8,274.9 269.8,283.7 269.5,282.6 268.8,283.1 268.1,281.8 267.4,283.5 266.7,282.5 266.0,282.6 265.3,283.6 264.6,283.8 263.9,281.7 263.2,282.5 262.5,282.5 261.8,284.1 261.1,282.1 260.4,283.7 259.7,283.4 259.0,282.7 258.3,282.3 257.6,283.7 256.9,282.3 256.2,281.8 255.5,281.8 254.8,282.1 254.1,283.7 253.4,283.0 252.7,282.8 252.0,282.8 251.3,282.4 250.6,282.4 249.9,283.9 249.2,282.2 248.5,283.5 247.8,282.4 247.1,283.3 246.4,283.4 245.7,282.7 245.0,283.9 244.3,283.2 243.6,282.5 242.9,282.1 242.2,282.8 241.5,282.1 240.8,284.4 240.1,282.2 239.4,283.2 238.7,282.9 238.0,283.7 237.3,282.4 236.6,283.7 235.9,283.5 235.2,282.2 234.5,283.8 233.8,284.1 233.1,283.4 232.4,284.3 231.7,283.9 231.0,282.9 230.3,283.6 229.6,282.8 228.9,285.7 228.2,283.3 227.5,283.1 226.8,284.5 226.1,283.6 225.4,284.4 224.7,283.3 224.0,284.0 223.3,285.8 222.6,283.9 221.9,284.1 221.2,284.8 220.5,285.3 219.8,284.1 219.1,284.6 218.4,286.0 217.7,283.9 217.0,284.6 216.3,284.5 215.6,284.9 214.9,285.5 214.2,285.3 213.5,287.6 212.8,286.7 212.1,284.6 211.4,284.3 210.7,285.9 210.0,286.2 209.3,285.2 208.6,284.6 207.9,284.3 207.2,287.9 206.5,284.9 205.8,285.2 205.1,285.5 204.4,285.1 203.7,284.5 203.0,284.5 202.3,285.3 201.6,285.2 200.9,286.5 200.2,284.2 199.5,285.5 198.8,285.3 198.1,284.3 197.4,286.1 196.7,284.4 196.0,284.9 195.3,285.0 194.6,286.4 193.9,284.1 193.2,284.7 192.5,285.1 191.8,284.4 191.1,284.3 190.4,284.5 189.7,286.8 189.0,284.7 188.3,285.5 187.6,284.7 186.9,285.4 186.2,284.2 185.5,284.2 184.8,284.8 184.1,285.4 183.4,285.8 182.7,285.2 182.0,284.0 181.3,286.1 180.6,284.5 179.9,285.0 179.2,285.3 178.5,285.8 177.8,284.3 177.1,284.5 176.4,283.9 175.7,285.1 175.0,284.6 174.3,284.1 173.6,283.8 172.9,284.2 172.2,285.1 171.5,285.1 170.8,283.8 170.1,284.1 169.4,283.7 168.7,284.9 168.0,285.5 167.3,283.8 166.6,284.7 165.9,283.6 165.2,284.5 164.5,286.8 163.8,283.9 163.1,285.1 162.4,284.8 161.7,283.7 161.0,283.3 160.3,283.5 159.6,284.2 158.9,284.2 158.2,284.2 157.5,284.9 156.8,283.9 156.1,283.4 155.4,286.1 154.7,284.0 154.0,283.5 153.3,283.1 152.6,283.1 151.9,283.6 151.2,283.1 150.5,284.0 149.8,284.9 149.1,284.9 148.4,284.9 147.7,283.0 147.0,284.5 146.3,284.4 145.6,283.8 144.9,284.0 144.2,284.3 143.5,284.6 142.8,283.1 142.1,284.0 141.4,283.5 140.7,283.2 140.0,286.6 139.3,284.0 138.6,283.4 137.9,285.7 137.2,284.9 136.5,285.7 135.8,283.2 135.1,283.2 134.4,287.0 133.7,283.7 133.0,283.7 132.3,284.4 131.6,287.5 130.9,283.1 130.2,285.9 129.5,283.0 128.8,284.4 128.1,283.6 127.4,283.4 126.7,284.3 126.0,283.5 125.3,283.9 124.6,283.5 123.9,283.9 123.2,284.4 122.5,284.1 121.8,284.9 121.1,283.2 120.4,283.2 119.7,283.6 119.0,284.7 118.3,283.9 117.6,283.7 116.9,283.1 116.2,283.8 115.5,285.9 114.8,283.5 114.1,286.0 113.4,285.0 112.7,284.6 112.0,283.8 111.3,283.3 110.6,286.4 109.9,286.2 109.2,283.5 108.5,284.3 107.8,283.8 107.1,284.0 106.4,283.7 105.7,284.4 105.0,284.8 104.3,285.4 103.6,285.9 102.9,284.0 102.2,286.4 101.5,285.8 100.8,284.1 100.1,284.1 99.4,285.1 98.7,285.2 98.0,284.0 97.3,284.8 96.6,285.3 95.9,284.3 95.2,285.1 94.5,284.3 93.8,284.1 93.1,286.5 92.4,288.0 91.7,285.5 91.0,283.8" fill="#0000ff" stroke="#0000ff" stroke-width="0.4" stroke-linejoin="round"/>
<polyline points="95.6,296.4 96.1,296.7 96.6,296.2 97.1,297.1 97.6,297.4 98.1,297.0 98.6,296.6 99.1,297.0 99.6,296.7 100.1,297.8 100.6,297.2 101.1,297.2 101.6,296.6 102.1,295.5 102.6,296.0 103.1,295.9 103.6,296.9 104.1,296.9 104.6,296.6 105.1,296.9 105.6,297.9 106.1,296.7 106.6,296.6 107.1,296.9 107.6,296.8 108.1,297.0 108.6,297.5 109.1,298.5 109.6,297.3 110.1,298.6 110.6,298.6 111.1,298.2 111.6,297.5 112.1,296.8 112.6,297.0 113.1,296.2 113.6,296.4 114.1,296.5 114.6,296.7 115.1,296.6 115.6,297.2 116.1,297.0 116.6,297.2 117.1,297.1 117.6,296.7 118.1,296.7 118.6,296.6 119.1,297.3 119.6,296.8 120.1,296.9 120.6,297.4 121.1,297.7 121.6,296.8 122.1,298.3 122.6,297.4 123.1,297.1 123.6,297.4 124.1,296.8 124.6,296.5 125.1,297.5 125.6,296.0 126.1,296.3 126.6,296.8 127.1,295.6 127.6,296.1 128.1,296.3 128.6,297.1 129.1,295.5 129.6,295.8 130.1,295.8 130.6,295.6 131.1,295.0 131.6,295.4 132.1,295.3 132.6,295.2 133.1,295.4 133.6,295.4 134.1,294.9 134.6,295.0 135.1,294.2 135.6,294.6 136.1,294.9 136.6,294.5 137.1,294.6 137.6,294.3 138.1,295.2 138.6,295.7 139.1,294.7 139.6,295.0 140.1,294.9 140.6,295.6 141.1,295.2 141.6,295.0 142.1,294.9 142.6,295.0 143.1,294.5 143.6,295.5 144.1,295.3 144.6,295.9 145.1,295.8 145.6,296.1 146.1,295.6 146.6,296.2 147.1,295.1 147.6,295.7 148.1,295.3 148.6,295.7 149.1,295.6 149.6,296.2 150.1,295.0 150.6,295.9 151.1,295.0 151.6,296.2 152.1,294.9 152.6,295.4 153.1,295.0 153.6,296.4 154.1,295.5 154.6,296.1 155.1,295.8 155.6,295.1 156.1,295.9 156.6,296.4 157.1,296.0 157.6,296.5 158.1,296.0 158.6,296.3 159.1,296.3 159.6,296.7 160.1,297.7 160.6,297.2 161.1,297.1 161.6,296.7 162.1,296.9 162.6,298.0 163.1,296.9 163.6,297.0 164.1,297.3 164.6,297.4 165.1,298.7 165.6,296.7 166.1,297.9 166.6,298.1 167.1,297.5 167.6,297.8 168.1,298.4 168.6,299.0 169.1,297.9 169.6,297.8 170.1,299.1 170.6,299.4 171.1,298.7 171.6,297.9 172.1,299.8 172.6,299.2 173.1,299.7 173.6,299.1 174.1,299.0 174.6,299.4 175.1,300.5 175.6,300.7 176.1,299.2 176.6,300.1 177.1,301.6 177.6,300.9 178.1,300.7 178.6,301.6 179.1,301.8 179.6,302.2 180.1,302.3 180.6,302.7 181.1,303.0 181.6,304.0 182.1,304.0 182.6,305.0 183.1,305.8 183.6,307.2 184.1,307.5 184.6,308.1 185.1,309.0 185.6,309.5 186.1,310.2 186.6,310.6 187.1,311.6 187.6,311.9 188.1,312.0 188.6,312.3 189.1,313.4 189.6,314.2 190.1,314.5 190.6,314.8 191.1,315.7 191.6,317.6 192.1,318.6 192.6,319.5 193.1,319.1 193.6,320.7 194.1,320.6 194.6,321.2 195.1,321.5 195.6,321.4 196.1,321.7 196.6,321.3 197.1,322.0 197.6,321.9 198.1,323.3 198.6,323.3 199.1,323.7 199.6,323.2 200.1,322.5 200.6,322.7 201.1,321.9 201.6,321.8 202.1,321.3 202.6,320.1 203.1,319.9 203.6,319.4 204.1,318.8 204.6,318.8 205.1,318.9 205.6,317.4 206.1,317.0 206.6,315.9 207.1,316.5 207.6,316.2 208.1,315.2 208.6,316.4 209.1,316.6 209.6,316.2 210.1,316.7 210.6,316.7 211.1,317.6 211.6,316.9 212.1,317.7 212.6,319.2 213.1,319.3 213.6,320.1 214.1,320.6 214.6,320.7 215.1,322.0 215.6,322.8 216.1,323.2 216.6,324.3 217.1,325.5 217.6,325.9 218.1,325.4 218.6,326.3 219.1,326.2 219.6,326.7 220.1,325.8 220.6,324.8 221.1,323.0 221.6,321.6 222.1,320.5 222.6,319.3 223.1,317.7 223.6,317.1 224.1,316.4 224.6,315.1 225.1,313.3 225.6,311.8 226.1,311.7 226.6,311.2 227.1,309.9 227.6,309.0 228.1,308.0 228.6,307.9 229.1,306.8 229.6,306.4 230.1,305.3 230.6,305.0 231.1,304.7 231.6,303.9 232.1,303.2 232.6,303.4 233.1,303.7 233.6,302.9 234.1,303.1 234.6,302.2 235.1,301.7 235.6,301.2 236.1,301.4 236.6,301.9 237.1,301.2 237.6,301.2 238.1,300.9 238.6,300.4 239.1,300.2 239.6,300.1 240.1,300.1 240.6,299.5 241.1,299.4 241.6,299.1 242.1,298.3 242.6,298.0 243.1,297.4 243.6,298.2 244.1,296.8 244.6,297.4 245.1,298.4 245.6,297.2 246.1,296.9 246.6,297.4 247.1,297.8 247.6,297.3 248.1,297.7 248.6,297.3 249.1,296.8 249.6,298.3 250.1,296.9 250.6,296.6 251.1,296.5 251.6,296.8 252.1,296.8 252.6,297.1 253.1,296.9 253.6,296.0 254.1,296.9 254.6,296.6 255.1,296.5 255.6,295.8 256.1,296.3 256.6,296.1 257.1,296.4 257.6,295.6 258.1,296.1 258.6,296.3 259.1,295.9 259.6,296.0 260.1,296.0 260.6,296.8 261.1,295.3 261.6,296.2 262.1,295.5 262.6,296.0 263.1,296.6 263.6,295.8 264.1,296.3 264.6,295.8 265.1,297.0 265.6,296.5 266.1,296.3 266.6,295.1 267.1,295.3 267.6,296.1 268.1,295.6 268.6,295.6 269.1,295.9 269.6,295.2 270.1,296.1 270.6,295.6 271.1,295.8 271.6,295.2 272.1,295.7 272.6,295.0 273.1,295.7 273.6,295.7 274.1,295.7 274.6,295.6 275.1,295.7 275.6,294.3 276.1,296.1 276.6,295.7 277.1,295.8 277.6,295.4 278.1,294.8 278.6,295.1 278.9,295.6" fill="none" stroke="#0000ff" stroke-width="2.5" stroke-linejoin="round" stroke-linecap="round"/>
<line x1="110.8" y1="279" x2="110.8" y2="318.6" stroke="#0000ff" stroke-width="1.8"/>
<polygon points="108.6,284 113,284 111.4,292 110.2,292" fill="#0000ff"/>
<polyline points="115.3,336.0 115.6,337.2 116.0,337.2 116.3,336.7 116.7,336.5 117.0,338.7 117.4,336.3 117.7,336.7 118.1,337.1 118.4,336.0 118.8,337.0 119.1,338.4 119.5,337.7 119.8,337.5 120.2,337.5 120.5,337.1 120.9,337.8 121.2,336.9 121.6,336.7 121.9,337.1 122.3,337.8 122.6,337.4 123.0,337.7 123.3,335.5 123.7,338.1 124.0,339.0 124.4,338.2 124.7,336.9 125.1,336.5 125.4,337.5 125.8,336.5 126.1,337.8 126.5,336.9 126.8,338.1 127.2,338.4 127.5,335.7 127.9,337.6 128.2,336.8 128.6,336.3 128.9,336.9 129.3,337.3 129.6,338.3 130.0,336.3 130.3,338.3 130.7,339.1 131.0,338.0 131.4,338.0 131.7,337.6 132.1,336.7 132.4,338.0 132.8,337.9 133.1,338.2 133.5,339.7 133.8,338.3 134.2,338.1 134.5,339.0 134.9,336.7 135.2,336.9 135.6,337.5 135.9,337.3 136.3,338.4 136.6,337.6 137.0,339.3 137.3,339.1 137.7,338.6 138.0,337.7 138.4,338.5 138.7,338.7 139.1,337.2 139.4,338.3 139.8,338.6 140.1,338.3 140.5,339.4 140.8,339.1 141.2,337.5 141.5,338.3 141.9,337.6 142.2,338.7 142.6,337.6 142.9,339.0 143.3,338.6 143.6,339.1 144.0,338.3 144.3,337.3 144.7,339.9 145.0,338.3 145.4,339.6 145.7,338.9 146.1,339.1 146.4,340.1 146.8,338.9 147.1,339.8 147.5,337.5 147.8,339.4 148.2,338.6 148.5,338.7 148.9,338.8 149.2,339.1 149.6,340.2 149.9,337.5 150.3,339.0 150.6,338.4 151.0,340.0 151.3,338.7 151.7,339.5 152.0,338.8 152.4,339.7 152.7,340.0 153.1,338.9 153.4,339.3 153.8,338.2 154.1,339.6 154.5,340.0 154.8,338.9 155.2,340.3 155.5,337.8 155.9,338.0 156.2,338.4 156.6,339.2 156.9,339.6 157.3,339.5 157.6,339.6 158.0,340.2 158.3,339.3 158.7,338.7 159.0,338.7 159.4,341.4 159.7,337.9 160.1,339.7 160.4,341.0 160.8,340.2 161.1,339.2 161.5,339.9 161.8,340.6 162.2,340.9 162.5,339.2 162.9,340.6 163.2,340.2 163.6,340.9 163.9,341.2 164.3,339.8 164.6,338.9 165.0,340.4 165.3,341.6 165.7,340.7 166.0,340.4 166.4,342.1 166.7,339.4 167.1,341.0 167.4,339.8 167.8,340.3 168.1,340.4 168.5,341.5 168.8,339.6 169.2,339.9 169.5,339.1 169.9,340.8 170.2,340.0 170.6,340.8 170.9,339.6 171.3,340.2 171.6,341.3 172.0,340.4 172.3,341.0 172.7,341.0 173.0,340.3 173.4,339.3 173.7,341.4 174.1,340.7 174.4,341.4 174.8,339.0 175.1,339.3 175.5,338.9 175.8,340.0 176.2,341.5 176.5,341.1 176.9,340.7 177.2,340.8 177.6,341.3 177.9,340.5 178.3,341.1 178.6,340.9 179.0,339.0 179.3,340.5 179.7,341.9 180.0,340.5 180.4,340.7 180.7,340.4 181.1,340.5 181.4,341.8 181.8,340.7 182.1,340.1 182.5,338.4 182.8,340.5 183.2,339.3 183.5,339.5 183.9,341.6 184.2,341.5 184.6,339.4 184.9,341.7 185.3,341.4 185.6,340.4 186.0,341.6 186.3,339.7 186.7,340.1 187.0,339.9 187.4,340.2 187.7,341.8 188.1,340.0 188.4,340.2 188.8,340.3 189.1,341.2 189.5,340.8 189.8,341.8 190.2,340.5 190.5,340.1 190.9,340.7 191.2,341.2 191.6,340.4 191.9,341.4 192.3,342.6 192.6,340.7 193.0,341.2 193.3,342.3 193.7,340.7 194.0,340.5 194.4,340.3 194.7,341.5 195.1,341.6 195.4,341.1 195.8,341.3 196.1,342.3 196.5,342.0 196.8,340.2 197.2,341.3 197.5,341.4 197.9,341.9 198.2,341.1 198.6,340.8 198.9,341.0 199.3,339.9 199.6,341.3 200.0,340.9 200.3,341.8 200.7,340.6 201.0,341.0 201.4,340.6 201.7,340.6 202.1,342.0 202.4,341.1 202.8,341.8 203.1,340.5 203.5,341.5 203.8,340.1 204.2,341.1 204.5,341.1 204.9,341.9 205.2,341.6 205.6,341.3 205.9,342.1 206.3,341.6 206.6,341.9 207.0,342.1 207.3,341.4 207.7,341.2 208.0,341.7 208.4,341.1 208.7,341.7 209.1,342.3 209.4,342.1 209.8,341.1 210.1,340.3 210.5,341.3 210.8,341.2 211.2,342.2 211.5,341.0 211.9,341.1 212.2,341.8 212.6,340.8 212.9,341.0 213.3,342.5 213.6,342.3 214.0,341.6 214.3,341.3 214.7,340.3 215.0,341.4 215.4,341.0 215.7,341.1 216.1,340.5 216.4,340.9 216.8,340.7 217.1,341.1 217.5,341.9 217.8,341.0 218.2,339.4 218.5,339.9 218.9,339.4 219.2,340.0 219.6,341.0 219.9,340.9 220.3,340.1 220.6,340.7 221.0,339.9 221.3,339.3 221.7,339.3 222.0,339.7 222.4,341.5 222.7,339.3 223.1,341.3 223.4,341.4 223.8,340.1 224.1,340.2 224.5,339.7 224.8,340.2 225.2,340.7 225.5,340.1 225.9,340.9 226.2,341.0 226.6,340.3 226.9,340.3 227.3,339.9 227.6,340.2 228.0,339.0 228.3,340.2 228.7,340.0 229.0,339.1 229.4,341.5 229.7,339.0 230.1,339.0 230.4,339.9 230.8,338.1 231.1,339.0 231.5,338.4 231.8,338.8 232.2,339.5 232.5,339.8 232.9,340.4 233.2,340.1 233.6,340.4 233.9,339.9 234.3,339.0 234.6,340.3 235.0,338.9 235.3,338.8 235.7,340.5 236.0,339.9 236.4,339.4 236.7,339.8 237.1,339.8 237.4,338.0 237.8,339.0 238.1,338.1 238.5,339.1 238.8,338.4 239.2,340.0 239.5,339.3 239.9,338.2 240.2,338.8 240.6,337.8 240.9,338.8 241.3,339.2 241.6,338.9 242.0,337.1 242.3,338.4 242.7,339.0 243.0,338.8 243.4,339.5 243.7,337.5 244.1,338.9 244.4,338.0 244.8,338.6 245.1,338.8 245.5,339.0 245.8,337.9 246.2,338.5 246.5,337.4 246.9,337.2 247.2,338.8 247.6,338.3 247.9,337.0 248.3,337.6 248.6,338.3 249.0,339.5 249.3,339.1 249.7,338.9 250.0,336.8 250.4,338.1 250.7,338.6 251.1,338.5 251.4,338.5 251.8,338.0 252.1,339.5 252.5,339.3 252.8,338.0 253.2,337.3 253.5,339.7 253.9,337.6 254.2,339.0 254.6,339.6 254.9,337.3 255.3,338.3 255.6,337.7 256.0,338.4 256.3,338.2 256.7,339.5 257.0,338.4 257.4,337.9 257.7,338.8 258.1,337.7 258.4,337.6 258.8,339.7 259.1,337.2 259.5,337.5 259.8,337.9 260.2,337.0 260.5,336.2 260.9,338.7 261.2,337.2 261.6,337.4 261.9,337.5 262.3,337.0 262.6,336.9 263.0,337.9 263.3,339.7 263.7,338.3 264.0,338.3 264.4,336.5 264.7,337.7 265.1,336.7 265.4,338.3 265.8,337.5 266.1,337.7 266.5,337.5 266.8,337.1 267.2,336.4 267.5,338.0 267.9,336.5 268.2,336.6 268.6,337.3 268.9,337.0 269.3,337.7 269.6,338.3 270.0,337.7 270.3,337.6 270.7,337.5 271.0,338.1 271.4,336.0 271.7,337.7 272.1,336.7 272.4,336.4 272.8,337.4 273.1,337.1 273.5,337.8 273.6,338.2" fill="none" stroke="#000000" stroke-width="3.0" stroke-linejoin="round" stroke-linecap="butt"/>
<polyline points="101.6,349.2 102.1,349.2 102.6,349.2 103.1,349.2 103.6,349.2 104.1,349.2 104.6,349.2 105.1,349.2 105.6,349.2 106.1,349.2 106.6,349.2 107.1,349.2 107.6,349.2 108.1,349.2 108.6,349.2 109.1,349.2 109.6,349.2 110.1,349.2 110.6,349.2 111.1,349.2 111.6,349.2 112.1,349.2 112.6,349.2 113.1,349.2 113.6,349.2 114.1,349.2 114.6,349.2 115.1,349.2 115.6,349.2 116.1,349.2 116.6,349.2 117.1,349.2 117.6,349.2 118.1,349.2 118.6,349.2 119.1,349.2 119.6,349.2 120.1,349.2 120.6,349.2 121.1,349.2 121.6,349.2 122.1,349.2 122.6,349.2 123.1,349.2 123.6,349.2 124.1,349.2 124.6,349.2 125.1,349.2 125.6,349.2 126.1,349.2 126.6,349.2 127.1,349.2 127.6,349.2 128.1,349.2 128.6,349.2 129.1,349.2 129.6,349.2 130.1,349.2 130.6,349.2 131.1,349.2 131.6,349.2 132.1,349.3 132.6,349.3 133.1,349.3 133.6,349.3 134.1,349.3 134.6,349.3 135.1,349.3 135.6,349.3 136.1,349.4 136.6,349.4 137.1,349.4 137.6,349.4 138.1,349.4 138.6,349.4 139.1,349.5 139.6,349.5 140.1,349.5 140.6,349.5 141.1,349.5 141.6,349.6 142.1,349.6 142.6,349.6 143.1,349.6 143.6,349.6 144.1,349.7 144.6,349.7 145.1,349.7 145.6,349.7 146.1,349.7 146.6,349.8 147.1,349.8 147.6,349.8 148.1,349.8 148.6,349.8 149.1,349.9 149.6,349.9 150.1,349.9 150.6,349.9 151.1,349.9 151.6,350.0 152.1,350.0 152.6,350.0 153.1,350.0 153.6,350.1 154.1,350.1 154.6,350.1 155.1,350.1 155.6,350.2 156.1,350.2 156.6,350.2 157.1,350.3 157.6,350.3 158.1,350.3 158.6,350.3 159.1,350.4 159.6,350.4 160.1,350.5 160.6,350.5 161.1,350.5 161.6,350.6 162.1,350.6 162.6,350.7 163.1,350.7 163.6,350.8 164.1,350.8 164.6,350.9 165.1,351.0 165.6,351.0 166.1,351.1 166.6,351.2 167.1,351.3 167.6,351.3 168.1,351.4 168.6,351.5 169.1,351.5 169.6,351.6 170.1,351.7 170.6,351.8 171.1,351.9 171.6,351.9 172.1,352.0 172.6,352.1 173.1,352.1 173.6,352.2 174.1,352.3 174.6,352.4 175.1,352.5 175.6,352.6 176.1,352.7 176.6,352.9 177.1,353.2 177.6,353.4 178.1,353.8 178.6,354.1 179.1,354.4 179.6,354.8 180.1,355.1 180.6,355.4 181.1,355.6 181.6,355.9 182.1,356.2 182.6,356.5 183.1,356.8 183.6,357.1 184.1,357.5 184.6,357.8 185.1,358.2 185.6,358.7 186.1,359.2 186.6,359.7 187.1,360.3 187.6,360.9 188.1,361.5 188.6,362.1 189.1,362.8 189.6,363.6 190.1,364.5 190.6,365.5 191.1,366.4 191.6,367.3 192.1,368.1 192.6,368.9 193.1,369.7 193.6,370.4 194.1,371.2 194.6,371.8 195.1,372.3 195.6,372.7 196.1,373.0 196.6,373.2 197.1,373.5 197.6,373.7 198.1,373.8 198.6,373.9 199.1,373.9 199.6,373.8 200.1,373.7 200.6,373.6 201.1,373.4 201.6,373.2 202.1,373.1 202.6,372.9 203.1,372.7 203.6,372.5 204.1,372.3 204.6,372.1 205.1,372.0 205.6,371.8 206.1,371.8 206.6,371.8 207.1,371.9 207.6,372.0 208.1,372.2 208.6,372.4 209.1,372.6 209.6,372.8 210.1,373.1 210.6,373.3 211.1,373.6 211.6,374.0 212.1,374.4 212.6,374.9 213.1,375.3 213.6,375.8 214.1,376.3 214.6,376.8 215.1,377.4 215.6,378.0 216.1,378.5 216.6,378.9 217.1,379.2 217.6,379.4 218.1,379.6 218.6,379.8 219.1,379.8 219.6,379.4 220.1,378.6 220.6,377.7 221.1,376.7 221.6,375.6 222.1,374.3 222.6,372.9 223.1,371.5 223.6,370.3 224.1,369.0 224.6,367.8 225.1,366.6 225.6,365.4 226.1,364.3 226.6,363.2 227.1,362.2 227.6,361.3 228.1,360.4 228.6,359.5 229.1,358.7 229.6,358.0 230.1,357.3 230.6,356.8 231.1,356.2 231.6,355.8 232.1,355.3 232.6,354.9 233.1,354.5 233.6,354.2 234.1,353.9 234.6,353.6 235.1,353.3 235.6,353.0 236.1,352.8 236.6,352.5 237.1,352.3 237.6,352.1 238.1,351.9 238.6,351.7 239.1,351.6 239.6,351.4 240.1,351.3 240.6,351.1 241.1,351.0 241.6,350.9 242.1,350.8 242.6,350.7 243.1,350.6 243.6,350.5 244.1,350.4 244.6,350.3 245.1,350.2 245.6,350.1 246.1,350.0 246.6,350.0 247.1,349.9 247.6,349.8 248.1,349.7 248.6,349.6 249.1,349.5 249.6,349.5 250.1,349.4 250.6,349.4 251.1,349.3 251.6,349.3 252.1,349.3 252.6,349.2 253.1,349.2 253.6,349.2 254.1,349.2 254.6,349.1 255.1,349.1 255.6,349.1 256.1,349.1 256.6,349.1 257.1,349.0 257.6,349.0 258.1,349.0 258.6,349.0 259.1,349.0 259.6,349.0 260.1,349.0 260.6,349.0 261.1,349.0 261.6,349.0 262.1,349.0 262.6,349.0 263.1,349.0 263.6,349.0 264.1,349.0 264.6,349.0 265.1,349.0 265.6,349.0 266.1,349.0 266.6,349.0 267.1,349.0 267.6,349.0 268.1,349.0 268.6,349.0 269.1,349.0 269.6,349.0 270.1,349.0 270.6,349.0 271.1,349.0 271.6,349.0 272.1,349.0 272.6,349.0 273.1,349.0 273.6,349.0 274.1,349.0 274.6,349.0 274.9,349.0" fill="none" stroke="#000000" stroke-width="1.75" stroke-linejoin="round" stroke-linecap="round"/>
<line x1="111.3" y1="349.6" x2="111.3" y2="356.6" stroke="#000000" stroke-width="1.3"/>
</g>
<g id="annot">
<line x1="127.4" y1="371.3" x2="114.5" y2="360.7" stroke="#000" stroke-width="1.1"/><polygon points="111.8,358.5 117.9,360.9 115.4,363.9" fill="#000"/>
</g>
<g id="labels" opacity="0.999">
<text transform="translate(91.8,402.6) scale(0.98,1)" font-size="9.8" text-anchor="middle">0</text>
<text transform="translate(122.0,402.6) scale(0.98,1)" font-size="9.8" text-anchor="middle">20</text>
<text transform="translate(152.3,402.6) scale(0.98,1)" font-size="9.8" text-anchor="middle">40</text>
<text transform="translate(182.5,402.6) scale(0.98,1)" font-size="9.8" text-anchor="middle">60</text>
<text transform="translate(212.7,402.6) scale(0.98,1)" font-size="9.8" text-anchor="middle">80</text>
<text transform="translate(243.1,402.6) scale(0.96,1)" font-size="9.8" text-anchor="middle">100</text>
<text transform="translate(273.3,402.6) scale(0.96,1)" font-size="9.8" text-anchor="middle">120</text>
<text transform="translate(303.5,402.6) scale(0.96,1)" font-size="9.8" text-anchor="middle">140</text>
<text transform="translate(183.5,422.4) scale(0.955,1)" font-size="10" text-anchor="middle">Magnetic field (kOe)</text>
<text transform="translate(51.3,177.0) rotate(-90) scale(0.983,1)" font-size="10" text-anchor="middle">Transmitted power (arb. units)</text>
<text transform="translate(68.0,27.5) scale(1.0,1)" font-size="9.8" text-anchor="start">75.5 GHz</text>
<text transform="translate(68.3,53.5) scale(1.0,1)" font-size="9.8" text-anchor="start">78.2 GHz</text>
<text transform="translate(68.3,79.8) scale(1.0,1)" font-size="9.8" text-anchor="start">62.1 GHz</text>
<text transform="translate(68.3,125.3) scale(1.0,1)" font-size="9.8" text-anchor="start">77.4 GHz</text>
<text transform="translate(68.6,154.7) scale(1.0,1)" font-size="9.8" text-anchor="start">80.6 GHz</text>
<text transform="translate(68.7,181.8) scale(1.0,1)" font-size="9.8" text-anchor="start">81.6 GHz</text>
<text transform="translate(68.5,224) scale(1.0,1)" font-size="9.8" text-anchor="start">35.6 GHz</text>
<text transform="translate(69.2,268.5) scale(1.0,1)" font-size="9.8" text-anchor="start">35.9 GHz</text>
<text transform="translate(68.9,341.6) scale(1.0,1)" font-size="9.8" text-anchor="start">36.3 GHz</text>
<text transform="translate(275.6,26.4) scale(1.0,1)" font-size="9.8" text-anchor="start">1.4 K</text>
<text transform="translate(275.6,52.4) scale(1.0,1)" font-size="9.8" text-anchor="start">1.4 K</text>
<text transform="translate(276.5,79.3) scale(1.0,1)" font-size="9.8" text-anchor="start">1.4 K</text>
<text transform="translate(274.5,125.7) scale(1.0,1)" font-size="9.8" text-anchor="start">0.5 K</text>
<text transform="translate(274,151.3) scale(1.0,1)" font-size="9.8" text-anchor="start">0.5 K</text>
<text transform="translate(274.5,179.1) scale(1.0,1)" font-size="9.8" text-anchor="start">0.5 K</text>
<text transform="translate(275.4,227.3) scale(1.0,1)" font-size="9.8" text-anchor="start">0.5 K</text>
<text transform="translate(276.1,253.9) scale(1.0,1)" font-size="9.8" text-anchor="start">1.4 K</text>
<text transform="translate(276.4,282.3) scale(1.0,1)" font-size="9.8" text-anchor="start">0.5 K</text>
<text transform="translate(276.6,307.6) scale(1.0,1)" font-size="9.8" text-anchor="start">1.4 K</text>
<text transform="translate(276.4,340.4) scale(1.0,1)" font-size="9.8" text-anchor="start">0.5 K</text>
<text transform="translate(276.6,359.2) scale(1.0,1)" font-size="9.8" text-anchor="start">1.4 K</text>
<text transform="translate(126.3,16.8) scale(0.985,1)" font-size="9.8" text-anchor="start">x = 0.21</text>
<text transform="translate(126.3,44.9) scale(0.985,1)" font-size="9.8" text-anchor="start">x = 0.07</text>
<text transform="translate(132.1,71.7) scale(0.985,1)" font-size="9.8" text-anchor="start">x = 0</text>
<text transform="translate(133.1,104.6) scale(0.985,1)" font-size="9.8" text-anchor="start">x = 0.21</text>
<text transform="translate(138.8,136.6) scale(0.985,1)" font-size="9.8" text-anchor="start">x = 0.07</text>
<text transform="translate(143.6,170.4) scale(0.985,1)" font-size="9.8" text-anchor="start">x = 0</text>
<text transform="translate(128.7,221.8) scale(0.985,1)" font-size="9.8" text-anchor="start">x = 0.21</text>
<text transform="translate(128.4,269) scale(0.985,1)" font-size="9.8" text-anchor="start">x = 0.07</text>
<text transform="translate(132.0,330.9) scale(0.985,1)" font-size="9.8" text-anchor="start">x = 0</text>
<text transform="translate(184.8,207.6) scale(1.0,1)" font-size="9.8" text-anchor="start">C1</text>
<text transform="translate(224.4,215.1) scale(1.0,1)" font-size="9.8" text-anchor="start">C2</text>
<text transform="translate(180,374.6) scale(1.0,1)" font-size="9.8" text-anchor="start">A</text>
<text transform="translate(229.2,377.8) scale(1.0,1)" font-size="9.8" text-anchor="start">B</text>
<text transform="translate(131.9,376.3) scale(1.0,1)" font-size="10.3" text-anchor="start">DPPH</text>
<text transform="translate(189.8,16.8) scale(1.0,1)" font-size="9.8"><tspan font-weight="bold">H</tspan> || <tspan font-style="italic">c</tspan></text>
<text transform="translate(190.9,-2.4) scale(1.0,1)" font-size="9.8">Ni(Cl<tspan dy="4.6" font-size="6.5">1-x</tspan><tspan dy="-4.6">Br</tspan><tspan dy="4.6" font-size="6.5">x</tspan><tspan dy="-4.6">)</tspan><tspan dy="4.6" font-size="6.5">2</tspan><tspan dy="-4.6">-4SC(NH</tspan><tspan dy="4.6" font-size="6.5">2</tspan><tspan dy="-4.6">)</tspan><tspan dy="4.6" font-size="6.5">2</tspan></text>
</g>
</svg>
</body>
</html>
